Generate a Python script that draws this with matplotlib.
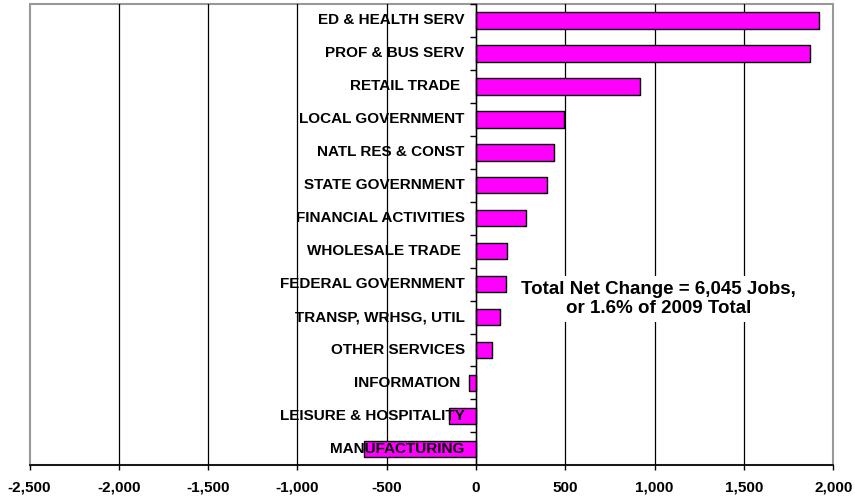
import matplotlib
matplotlib.use("Agg")
import matplotlib.pyplot as plt
from matplotlib.patches import Rectangle

categories = ["ED & HEALTH SERV", "PROF & BUS SERV", "RETAIL TRADE ", "LOCAL GOVERNMENT",
              "NATL RES & CONST", "STATE GOVERNMENT", "FINANCIAL ACTIVITIES", "WHOLESALE TRADE ",
              "FEDERAL GOVERNMENT", "TRANSP, WRHSG, UTIL", "OTHER SERVICES", "INFORMATION ",
              "LEISURE & HOSPITALITY", "MANUFACTURING"]
values = [1920, 1870, 920, 495, 435, 395, 280, 172, 168, 132, 88, -40, -150, -625]
xticks = [-2500, -2000, -1500, -1000, -500, 0, 500, 1000, 1500, 2000]
xticklabels = ["-2,500", "-2,000", "-1,500", "-1,000", "-500", "0", "500", "1,000", "1,500", "2,000"]
note = "Total Net Change = 6,045 Jobs,\nor 1.6% of 2009 Total"

plt.rcParams['font.family'] = ['Liberation Sans', 'DejaVu Sans']

fig = plt.figure(figsize=(8.55, 5.01), dpi=100)
ax = fig.add_axes([29.5/855, (501-465.3)/501, (833.3-29.5)/855, (465.3-4)/501])

n = len(categories)
ypos = [n - 1 - i for i in range(n)]
ax.barh(ypos, values, height=0.5, color="#FF00FF", edgecolor="black", linewidth=1.0, zorder=3)

ax.set_xlim(-2500, 2000)
ax.set_ylim(-0.5, n - 0.5)

for x in xticks[1:-1]:
    ax.axvline(x, color="black", lw=0.9, zorder=1)

# zero axis with boundary ticks
ax.spines['left'].set_position(('data', 0))
ax.spines['left'].set_color('black')
ax.spines['left'].set_linewidth(1.0)
ax.spines['left'].set_zorder(4)
ax.set_yticks([k + 0.5 for k in range(n)])
ax.set_yticklabels([])
ax.tick_params(axis='y', direction='out', length=4.5, width=1.0, color='black')

for sp in ['top', 'right']:
    ax.spines[sp].set_visible(False)
ax.spines['bottom'].set_color('black')
ax.spines['bottom'].set_linewidth(1.2)
ax.add_patch(Rectangle((0, 0), 1, 1, transform=ax.transAxes, fill=False,
                       edgecolor="#999999", lw=1.5, clip_on=False, zorder=0))

ax.set_xticks(xticks)
ax.set_xticklabels(xticklabels, fontsize=11, fontweight='bold')
ax.tick_params(axis='x', direction='out', length=3.6, width=1.0, pad=7.5)

for y, lab in zip(ypos, categories):
    ax.annotate(lab, xy=(0, y), xytext=(-8.2, 0), textcoords='offset points',
                ha='right', va='center', fontsize=11, fontweight='bold', zorder=5)

ax.text(1020, 4.55, note, ha='center', va='center', fontsize=13.5, fontweight='bold',
        linespacing=1.1, zorder=6,
        bbox=dict(facecolor='white', edgecolor='none', pad=4))

fig.savefig("out.png", dpi=100)
